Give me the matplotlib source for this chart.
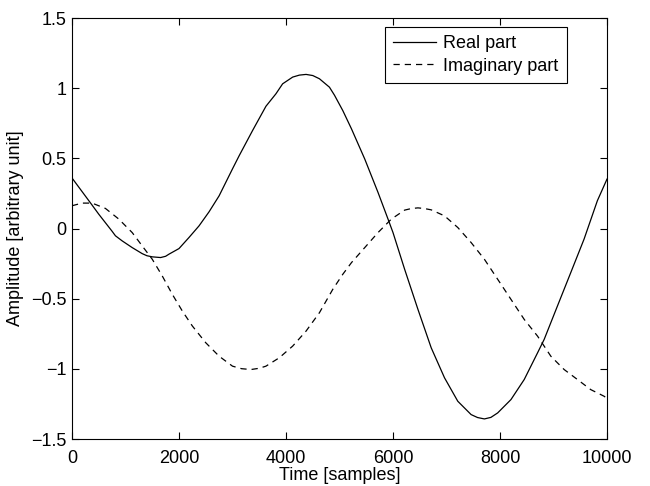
import matplotlib
matplotlib.use("Agg")
import matplotlib.pyplot as plt

# values (time in samples, amplitude in arbitrary units)
real_t = [0, 375, 500, 750, 812, 937, 1125, 1312, 1400, 1500, 1656, 1750, 1812, 2000,
          2187, 2375, 2562, 2750, 2875, 3000, 3125, 3375, 3625, 3812, 3937, 4125, 4250,
          4375, 4500, 4625, 4812, 4906, 5062, 5224, 5472, 5720, 5907, 6000, 6217, 6466,
          6714, 6963, 7211, 7460, 7580, 7708, 7830, 7957, 8205, 8453, 8702, 8826, 9074,
          9323, 9571, 9820, 10000]
real_v = [0.36, 0.167, 0.102, -0.02, -0.052, -0.088, -0.136, -0.179, -0.194, -0.202,
          -0.207, -0.198, -0.183, -0.143, -0.064, 0.019, 0.119, 0.233, 0.329, 0.425,
          0.519, 0.698, 0.871, 0.96, 1.031, 1.079, 1.093, 1.098, 1.09, 1.067, 1.007, 0.95,
          0.84, 0.71, 0.495, 0.257, 0.067, -0.029, -0.29, -0.576, -0.85, -1.064, -1.231,
          -1.326, -1.347, -1.357, -1.346, -1.314, -1.219, -1.076, -0.886, -0.79, -0.552,
          -0.314, -0.076, 0.198, 0.352]

imag_t = [0, 187, 375, 625, 875, 1125, 1312, 1500, 1687, 1875, 2062, 2250, 2500, 2750,
          3000, 3170, 3344, 3500, 3625, 3875, 4125, 4375, 4625, 4875, 5062, 5224, 5472,
          5720, 5969, 6217, 6340, 6466, 6590, 6714, 6963, 7211, 7460, 7708, 7957, 8205,
          8453, 8702, 8950, 9199, 9447, 9696, 9944, 10000]
imag_v = [0.162, 0.181, 0.181, 0.143, 0.067, -0.029, -0.124, -0.219, -0.338, -0.469,
          -0.588, -0.695, -0.814, -0.91, -0.981, -0.999, -1.005, -0.996, -0.981, -0.921,
          -0.838, -0.731, -0.6, -0.433, -0.326, -0.243, -0.136, -0.029, 0.067, 0.131,
          0.142, 0.147, 0.142, 0.133, 0.09, 0.007, -0.1, -0.219, -0.362, -0.505, -0.648,
          -0.767, -0.91, -1.005, -1.076, -1.148, -1.195, -1.21]

plt.rcParams["font.family"] = ["Liberation Sans", "DejaVu Sans"]
plt.rcParams["font.size"] = 13

fig = plt.figure(figsize=(6.5, 4.86), dpi=100)
ax = fig.add_axes([72/650, 1-439/486, 535/650, 421/486])

ax.plot(real_t, real_v, color="black", lw=0.9, label="Real part")
ax.plot(imag_t, imag_v, color="black", lw=0.9, ls=(0, (5, 4)), label="Imaginary part")

ax.set_xlim(0, 10000)
ax.set_ylim(-1.5, 1.5)
ax.set_xticks([0, 2000, 4000, 6000, 8000, 10000])
ax.set_yticks([-1.5, -1, -0.5, 0, 0.5, 1, 1.5])
ax.set_yticklabels(["\u22121.5", "\u22121", "\u22120.5", "0", "0.5", "1", "1.5"])
ax.tick_params(direction="in", length=5, width=0.8, top=True, right=True)
ax.tick_params(axis="y", pad=4)
ax.tick_params(axis="x", pad=8)
for s in ax.spines.values():
    s.set_linewidth(0.8)

ax.set_xlabel("Time [samples]", labelpad=0)
ax.set_ylabel("Amplitude [arbitrary unit]", labelpad=5)

leg = ax.legend(loc="upper right", bbox_to_anchor=(0.9245, 0.978), frameon=True,
                fancybox=False, edgecolor="black", framealpha=1, handlelength=2.4,
                handletextpad=0.4, borderpad=0.45, labelspacing=0.3, borderaxespad=0)
leg.get_frame().set_linewidth(0.8)

fig.savefig("out.png", dpi=100)
